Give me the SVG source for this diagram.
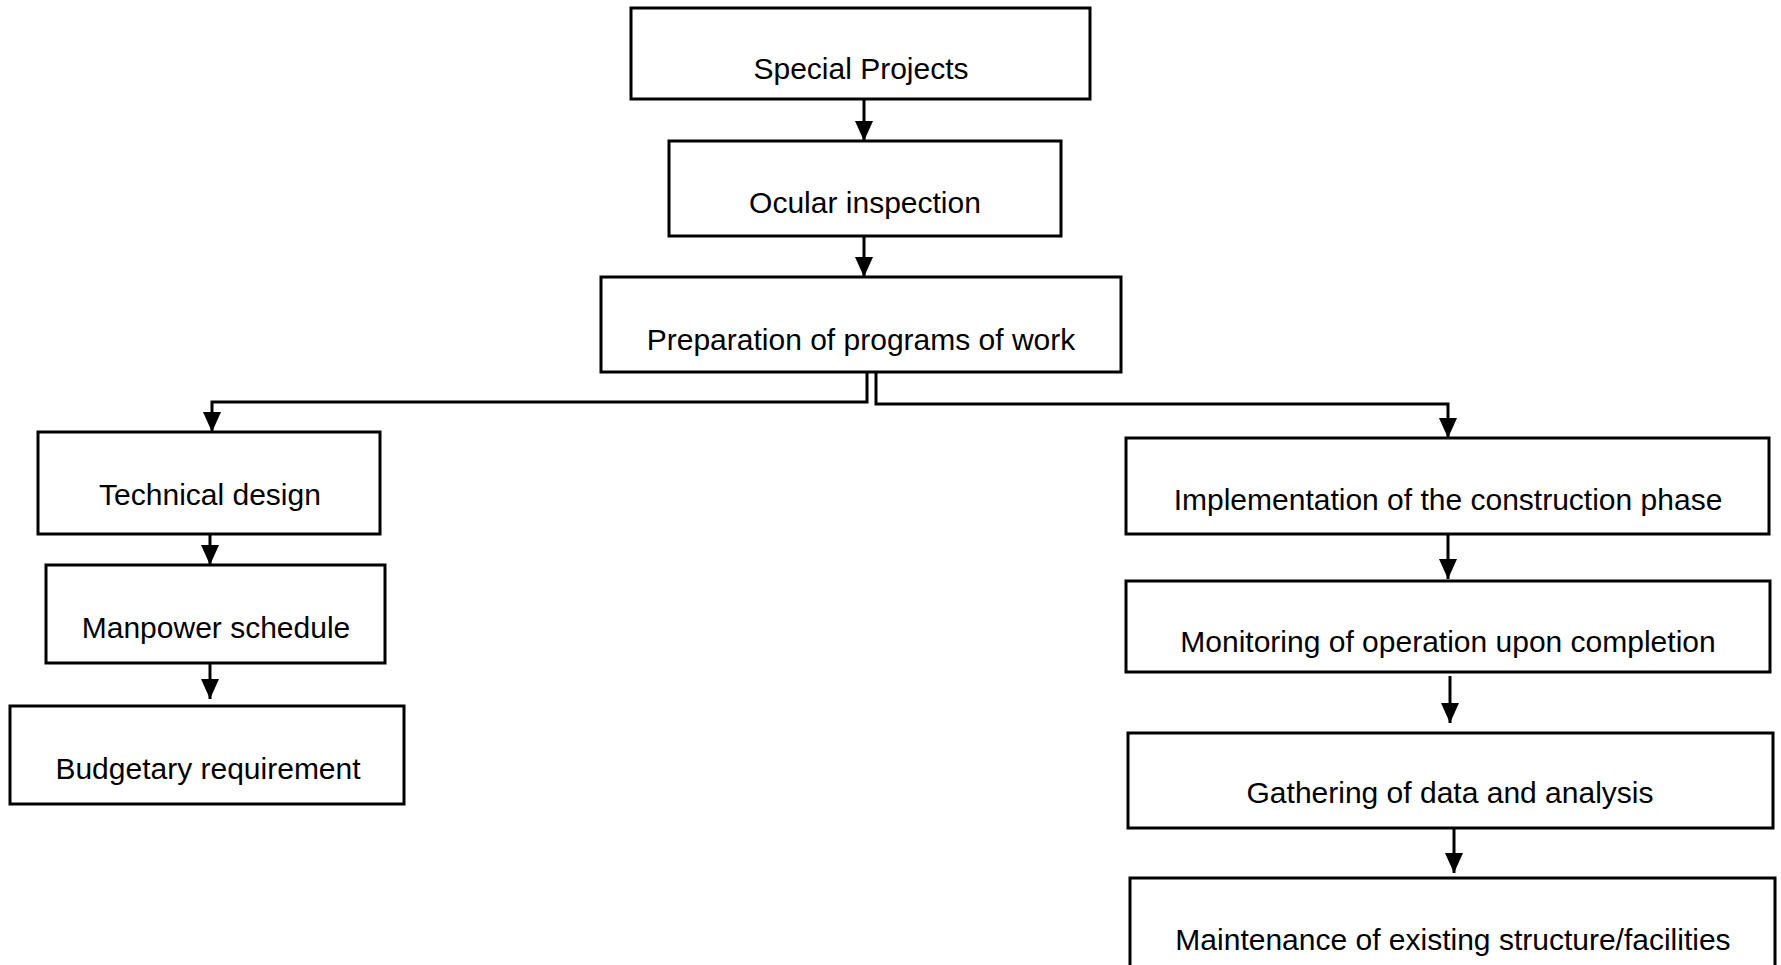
<svg xmlns="http://www.w3.org/2000/svg" width="1781" height="965" viewBox="0 0 1781 965">
<defs>
<style>
.box{fill:#fff;stroke:#000;stroke-width:3}
.lbl{font-family:"Liberation Sans",Arial,sans-serif;font-size:30px;fill:#000;text-anchor:middle}
.con{fill:none;stroke:#000;stroke-width:3}
</style>
<marker id="ah" viewBox="0 0 20 18" refX="20" refY="9" markerWidth="20" markerHeight="18" markerUnits="userSpaceOnUse" orient="auto">
<path d="M0,0 L20,9 L0,18 Z" fill="#000"/>
</marker>
</defs>
<rect width="1781" height="965" fill="#fff"/>
<g id="connectors">
<line class="con" x1="864" y1="99" x2="864" y2="141" marker-end="url(#ah)"/>
<line class="con" x1="864" y1="236" x2="864" y2="277" marker-end="url(#ah)"/>
<polyline class="con" points="867,372 867,402 212,402 212,432" marker-end="url(#ah)"/>
<polyline class="con" points="876,372 876,404 1448,404 1448,438" marker-end="url(#ah)"/>
<line class="con" x1="210" y1="534" x2="210" y2="565" marker-end="url(#ah)"/>
<line class="con" x1="210" y1="663" x2="210" y2="699" marker-end="url(#ah)"/>
<line class="con" x1="1448" y1="534" x2="1448" y2="579" marker-end="url(#ah)"/>
<line class="con" x1="1450" y1="676" x2="1450" y2="723" marker-end="url(#ah)"/>
<line class="con" x1="1454" y1="828" x2="1454" y2="873" marker-end="url(#ah)"/>
</g>
<g id="special-projects">
<rect class="box" x="631" y="8" width="459" height="91"/>
<text class="lbl" x="861" y="79">Special Projects</text>
</g>
<g id="ocular-inspection">
<rect class="box" x="669" y="141" width="392" height="95"/>
<text class="lbl" x="865" y="213">Ocular inspection</text>
</g>
<g id="preparation">
<rect class="box" x="601" y="277" width="520" height="95"/>
<text class="lbl" x="861" y="350">Preparation of programs of work</text>
</g>
<g id="technical-design">
<rect class="box" x="38" y="432" width="342" height="102"/>
<text class="lbl" x="210" y="505">Technical design</text>
</g>
<g id="manpower-schedule">
<rect class="box" x="46" y="565" width="339" height="98"/>
<text class="lbl" x="216" y="638">Manpower schedule</text>
</g>
<g id="budgetary-requirement">
<rect class="box" x="10" y="706" width="394" height="98"/>
<text class="lbl" x="208" y="779">Budgetary requirement</text>
</g>
<g id="implementation">
<rect class="box" x="1126" y="438" width="643" height="96"/>
<text class="lbl" x="1448" y="510">Implementation of the construction phase</text>
</g>
<g id="monitoring">
<rect class="box" x="1126" y="581" width="644" height="91"/>
<text class="lbl" x="1448" y="652">Monitoring of operation upon completion</text>
</g>
<g id="gathering">
<rect class="box" x="1128" y="733" width="645" height="95"/>
<text class="lbl" x="1450" y="803">Gathering of data and analysis</text>
</g>
<g id="maintenance">
<rect class="box" x="1130" y="878" width="645" height="110"/>
<text class="lbl" x="1453" y="950">Maintenance of existing structure/facilities</text>
</g>
</svg>
